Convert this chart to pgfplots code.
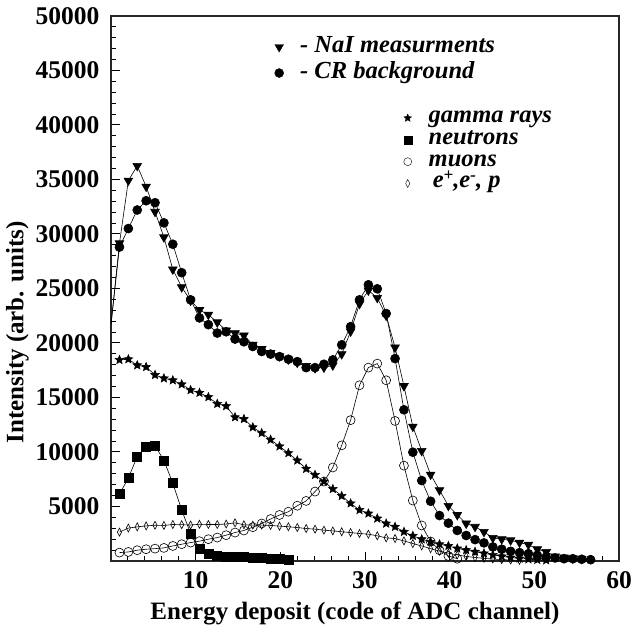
\documentclass[border=0pt]{standalone}
\usepackage{fontspec}
\setmainfont{Liberation Serif}
\usepackage{pgfplots}
\pgfplotsset{compat=1.18}
\usepackage{pgfplotstable}

\pgfdeclareplotmark{fstar}{%
  \pgfpathmoveto{\pgfpointpolar{90}{\pgfplotmarksize}}%
  \pgfpathlineto{\pgfpointpolar{126}{0.45\pgfplotmarksize}}%
  \pgfpathlineto{\pgfpointpolar{162}{\pgfplotmarksize}}%
  \pgfpathlineto{\pgfpointpolar{198}{0.45\pgfplotmarksize}}%
  \pgfpathlineto{\pgfpointpolar{234}{\pgfplotmarksize}}%
  \pgfpathlineto{\pgfpointpolar{270}{0.45\pgfplotmarksize}}%
  \pgfpathlineto{\pgfpointpolar{306}{\pgfplotmarksize}}%
  \pgfpathlineto{\pgfpointpolar{342}{0.45\pgfplotmarksize}}%
  \pgfpathlineto{\pgfpointpolar{18}{\pgfplotmarksize}}%
  \pgfpathlineto{\pgfpointpolar{54}{0.45\pgfplotmarksize}}%
  \pgfpathclose
  \pgfusepathqfillstroke
}

\pgfplotstableread{
x     nai    cr     gam    neu    mu     ep
1.00  29150  28800  18450  6150   770    2650
2.05  34900  30500  18510  7600   830    3020
3.10  36250  32200  17960  9600   990    3130
4.15  34350  33050  17800  10500  1080   3220
5.20  32040  32870  17070  10580  1135   3280
6.25  29700  31020  16760  9225   1200   3260
7.30  26750  29060  16580  7130   1380   3350
8.35  25120  26450  16210  4680   1540   3330
9.40  23900  23960  15680  2520   1690   3300
10.45 23030  22300  15430  1135   1820   3370
11.50 22600  21680  15040  620    2000   3350
12.55 21900  20910  14420  460    2150   3350
13.60 21150  21030  14210  390    2370   3390
14.65 20900  20360  13190  370    2610   3500
15.70 20700  20110  13030  360    2800   3320
16.75 19850  19680  12270  330    3100   3290
17.80 19450  19220  11740  280    3440   3290
18.85 19100  18980  11130  230    3850   3260
19.90 18800  18750  10520  180    4220   3200
20.95 18500  18510  9900   120    4520   3140
22.00 18200  18290  9225   nan    5070   3070
23.05 17900  17740  8460   nan    5510   2980
24.10 17700  17740  7900   nan    6370   2920
25.15 17750  18050  7290   nan    7290   2830
26.20 17950  18450  6610   nan    8580   2760
27.25 18980  19830  5970   nan    10610  2680
28.30 21060  21500  5290   nan    12920  2610
29.35 23590  23960  4680   nan    16120  2520
30.40 24820  25340  4360   nan    17740  2460
31.45 24140  24970  3900   nan    18110  2310
32.50 22510  22700  3440   nan    16580  2120
33.55 19590  18570  3140   nan    12850  2060
34.60 16050  13870  2680   nan    8750   1840
35.65 12330  9980   2310   nan    5550   1600
36.70 10100  7380   2000   nan    3260   1380
37.75 7930   5480   1750   nan    1790   1135
38.80 6500   4170   1540   nan    990    900
39.85 5060   3470   1380   nan    460    720
40.90 4220   2800   1150   nan    210    560
41.95 3440   2340   1000   nan    nan    420
43.00 3140   1960   850    nan    nan    320
44.05 2675   1660   700    nan    nan    240
45.10 2120   1290   560    nan    nan    180
46.15 2000   1080   430    nan    nan    130
47.20 1900   890    320    nan    nan    90
48.25 1690   770    230    nan    nan    60
49.30 1500   670    160    nan    nan    nan
50.35 1080   525    110    nan    nan    nan
51.40 830    370    70     nan    nan    nan
52.45 430    280    nan    nan    nan    nan
53.50 330    210    nan    nan    nan    nan
54.55 250    210    nan    nan    nan    nan
55.60 200    160    nan    nan    nan    nan
56.65 nan    120    nan    nan    nan    nan
}\data

\pgfplotsset{
  common/.style={
    scale only axis, width=508pt, height=545pt,
    xmin=0, xmax=60, ymin=0, ymax=50000,
    legend cell align=left,
    legend image code/.code={%
      \path[draw=none,fill=none] (0pt,-4pt) rectangle (26pt,4pt);
      \draw[##1,/tikz/only marks] plot coordinates {(6pt,0pt)};},
  },
  dat/.style={black, line width=0.6pt, mark options={solid, line width=0.6pt}},
}

\begin{document}
\begin{tikzpicture}
\begin{axis}[common, name=ax,
  axis line style={line width=1.3pt, black!85},
  tick align=inside, xtick pos=left, ytick pos=left,
  xtick={10,20,...,60}, minor xtick={2,4,...,58},
  ytick={5000,10000,...,50000}, minor ytick={1000,2000,...,49000},
  major tick length=9pt, minor tick length=5pt,
  every tick/.style={black, line width=1pt},
  scaled y ticks=false,
  /pgf/number format/1000 sep={},
  /pgf/number format/assume math mode=true,
  tick label style={font=\bfseries\fontsize{25.5}{25.5}\selectfont},
  xticklabel style={yshift=-7pt},
  yticklabel style={xshift=-8pt},
  label style={font=\bfseries\fontsize{25}{27}\selectfont},
  xlabel={Energy deposit (code of ADC channel)},
  xlabel style={yshift=-6pt, xshift=-10pt},
  ylabel={Intensity (arb. units)},
  ylabel style={xshift=-44pt},
  legend style={at={(rel axis cs:0.313,0.97)}, anchor=north west, draw=none, fill=none,
    font=\bfseries\itshape\fontsize{24.5}{24.5}\selectfont,
    nodes={inner sep=1pt, text height=17pt, text depth=6pt}, row sep=1pt},
]
\addlegendimage{black, mark=triangle*, mark size=5pt, mark options={rotate=180}}
\addlegendentry{- NaI measurments}
\addlegendimage{black, mark=*, mark size=4.5pt}
\addlegendentry{- CR background}
\addplot[dat, mark=none, forget plot] coordinates {(0,21700) (1.00,29150)};
\addplot[dat, mark=none, forget plot] coordinates {(0,21700) (1.00,28800)};
\addplot[dat, mark=triangle*, mark size=5pt, mark options={rotate=180}, forget plot] table[x=x,y=nai] {\data};
\addplot[dat, mark=*, mark size=4.5pt, forget plot] table[x=x,y=cr] {\data};
\end{axis}
\begin{axis}[common, hide axis,
  legend style={at={(rel axis cs:0.566,0.836)}, anchor=north west, draw=none, fill=none,
    font=\bfseries\itshape\fontsize{24.5}{24.5}\selectfont,
    nodes={inner sep=1pt, text height=14pt, text depth=5pt}, row sep=0.8pt},
]
\addlegendimage{black, mark=fstar, mark size=4pt}
\addlegendentry{gamma rays}
\addlegendimage{black, mark=square*, mark size=4pt}
\addlegendentry{neutrons}
\addlegendimage{black, mark=o, mark size=4pt, mark options={fill=white}}
\addlegendentry{muons}
\addlegendimage{black, mark=diamond, mark size=4pt, mark options={xscale=0.7, fill=white}}
\addlegendentry{\,e\raisebox{0.32em}{\fontsize{17}{17}\selectfont +},e\raisebox{0.32em}{\fontsize{17}{17}\selectfont -}, p}
\addplot[dat, mark=fstar, mark size=4.5pt, forget plot] table[x=x,y=gam] {\data};
\addplot[dat, mark=square*, mark size=4.5pt, forget plot] table[x=x,y=neu] {\data};
\addplot[dat, mark=o, mark size=4.5pt, mark options={fill=white}, forget plot] table[x=x,y=mu] {\data};
\addplot[dat, mark=diamond, mark size=4pt, mark options={xscale=0.7, fill=white}, forget plot] table[x=x,y=ep] {\data};
\end{axis}
\pgfresetboundingbox
\path (ax.south west) ++(-111pt,-70pt) coordinate (bl);
\path (ax.north east) ++(24pt,16pt) coordinate (tr);
\path[use as bounding box] (bl) rectangle (tr);
\end{tikzpicture}
\end{document}
